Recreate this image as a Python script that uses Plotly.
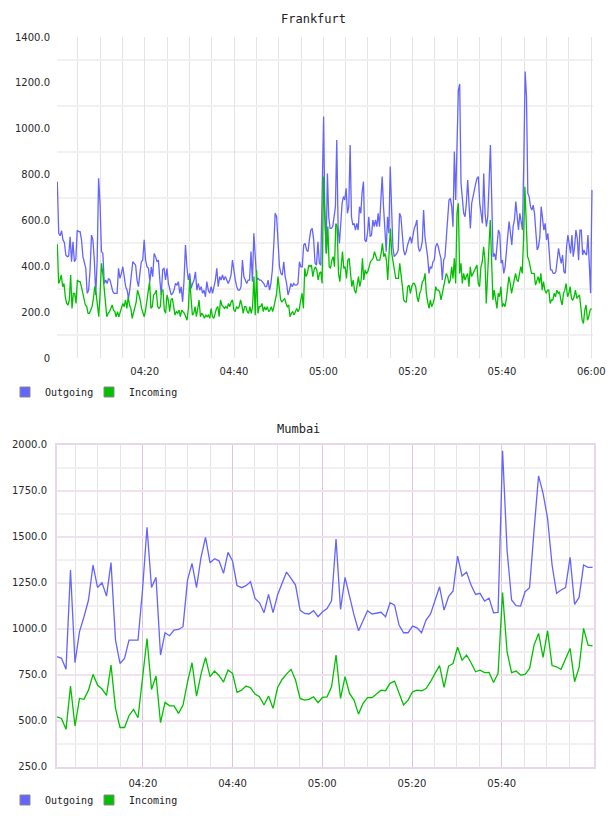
import plotly.graph_objects as go
import pandas as pd

# ---------------- data ----------------
# Frankfurt, first hour (04:00 -> 05:00), ~20 s samples
fra_out_a = [769, 544, 533, 555, 515, 503, 449, 442, 445, 529, 420, 507, 420, 430, 558, 551, 551, 515, 442, 420,
             391, 282, 296, 384, 536, 515, 427, 275, 427, 784, 675, 464, 456, 325, 340, 325, 347, 340, 318, 289,
             282, 282, 282, 391, 347, 369, 398, 355, 311, 296, 260, 304, 355, 420, 413, 405, 340, 311, 369, 420,
             427, 515, 427, 398, 391, 333, 398, 355, 456, 442, 420, 427, 340, 275, 387, 391, 340, 391, 325, 296,
             275, 282, 296, 325, 318, 333, 282, 311, 245, 340, 493, 398, 340, 369, 304, 325, 340, 376, 296, 325,
             296, 311, 282, 296, 267, 333, 296, 282, 311, 282, 311, 340, 391, 311, 355, 340, 362, 340, 355, 340,
             325, 340, 362, 427, 369, 340, 311, 296, 296, 311, 427, 355, 340, 325, 340, 340, 464, 333, 544, 427,
             340, 347, 340, 340, 333, 325, 311, 311, 340, 296, 325, 384, 493, 631, 616, 485, 398, 369, 362, 420,
             355, 325, 275, 296, 325, 311, 325, 318, 318, 325, 420, 398, 398, 493, 500, 471, 464, 515, 558, 565,
             515, 413, 405, 507, 413, 405, 675, 1053]
fra_out_b = [660, 456, 805, 616, 565, 565, 573, 631, 660, 951, 573, 500, 616, 675, 704, 689, 740, 631, 660, 929,
             616, 580, 587, 558, 587, 558, 660, 631, 725, 769, 515, 507, 544, 616, 529, 536, 602, 573, 602, 573,
             631, 573, 689, 791, 660, 573, 464, 616, 544, 835, 645, 485, 442, 449, 456, 471, 631, 616, 544, 471,
             449, 464, 493, 507, 529, 500, 536, 565, 580, 602, 485, 464, 478, 507, 645, 529, 485, 442, 369, 398,
             391, 420, 427, 485, 500, 485, 456, 435, 340, 427, 442, 515, 587, 689, 696, 660, 573, 900, 689, 907,
             1169, 1195, 762, 696, 631, 616, 675, 776, 660, 565, 675, 704, 747, 762, 784, 791, 675, 616, 587, 805,
             631, 573, 616, 762, 929, 689, 442, 456, 427, 493, 558, 544, 413, 427, 369, 398, 485, 536, 595, 544,
             493, 573, 602, 682, 631, 558, 631, 587, 558, 864, 1249, 1140, 718, 704, 660, 645, 667, 631, 544, 471,
             485, 529, 660, 616, 558, 587, 515, 544, 471, 384, 384, 369, 369, 376, 427, 478, 442, 413, 449, 376,
             369, 485, 536, 485, 456, 536, 442, 485, 558, 522, 427, 558, 558, 449, 471, 456, 449, 536, 427, 282,
             733]
fra_in_a = [496, 325, 340, 362, 311, 325, 267, 238, 231, 253, 362, 216, 282, 282, 238, 340, 333, 333, 311, 282,
            253, 231, 224, 195, 195, 209, 224, 260, 311, 282, 224, 180, 282, 413, 369, 311, 253, 180, 195, 202,
            216, 231, 209, 202, 180, 202, 180, 202, 224, 238, 224, 253, 216, 267, 231, 216, 173, 202, 231, 245,
            296, 275, 253, 216, 195, 180, 209, 253, 282, 333, 216, 224, 275, 282, 296, 224, 216, 224, 296, 296,
            209, 195, 275, 253, 202, 253, 260, 216, 187, 202, 195, 209, 180, 209, 202, 195, 180, 165, 216, 347,
            260, 187, 195, 224, 180, 216, 253, 180, 195, 187, 173, 187, 180, 187, 173, 216, 180, 173, 195, 216,
            224, 180, 253, 231, 224, 216, 224, 216, 238, 224, 245, 253, 209, 202, 224, 216, 224, 253, 231, 195,
            224, 224, 202, 195, 224, 195, 224, 355, 187, 384, 195, 224, 224, 238, 202, 224, 209, 224, 202, 209,
            224, 202, 224, 253, 282, 355, 311, 253, 245, 253, 260, 238, 224, 231, 180, 195, 202, 187, 202, 216,
            202, 216, 253, 282, 216, 391, 355, 369, 405, 398, 405, 355, 384, 398, 384, 340, 369, 376, 325, 791]
fra_in_b = [573, 456, 573, 398, 391, 427, 442, 398, 587, 573, 369, 333, 398, 464, 391, 398, 347, 427, 435, 355,
            311, 340, 296, 282, 333, 355, 311, 340, 435, 340, 384, 369, 376, 405, 420, 427, 435, 464, 449, 427,
            427, 427, 456, 500, 442, 456, 427, 340, 456, 565, 456, 420, 369, 347, 347, 347, 413, 369, 311, 253,
            245, 245, 311, 318, 282, 311, 325, 325, 311, 267, 245, 282, 296, 333, 340, 369, 282, 245, 216, 253,
            224, 238, 260, 311, 296, 296, 289, 253, 282, 296, 340, 369, 355, 325, 340, 398, 347, 435, 325, 631,
            675, 369, 413, 325, 369, 340, 355, 369, 311, 398, 355, 369, 384, 398, 405, 325, 311, 398, 420, 485,
            427, 238, 369, 456, 602, 427, 253, 296, 260, 216, 282, 267, 311, 224, 238, 224, 253, 311, 355, 325,
            282, 311, 340, 369, 340, 333, 369, 398, 369, 515, 747, 573, 442, 427, 391, 369, 369, 369, 318, 340,
            355, 325, 369, 296, 333, 296, 282, 296, 296, 238, 253, 253, 282, 267, 296, 282, 289, 253, 231, 282,
            296, 325, 267, 282, 311, 260, 253, 267, 296, 260, 267, 275, 224, 165, 151, 209, 231, 165, 180, 209,
            216]

# Mumbai, 1-minute samples
mum_out = [848, 839, 779, 1319, 815, 984, 1065, 1156, 1346, 1224, 1250, 1177, 1359, 938, 811, 839, 938, 938, 938, 1210,
           1551, 1224, 1279, 857, 978, 962, 993, 996, 1011, 1264, 1355, 1223, 1388, 1496, 1359, 1380, 1369, 1301, 1415, 1368,
           1235, 1223, 1234, 1255, 1165, 1141, 1087, 1186, 1087, 1183, 1241, 1308, 1273, 1237, 1101, 1083, 1080, 1098, 1065, 1092,
           1110, 1152, 1487, 1105, 1279, 1174, 1074, 989, 1047, 1098, 1080, 1083, 1089, 1065, 1141, 1128, 1020, 978, 978, 1014,
           1005, 978, 1047, 1080, 1156, 1228, 1101, 1174, 1205, 1395, 1286, 1308, 1237, 1186, 1192, 1150, 1166, 1087, 1089, 1967,
           1427, 1156, 1125, 1123, 1201, 1223, 1536, 1831, 1735, 1600, 1346, 1192, 1210, 1224, 1388, 1132, 1170, 1346, 1333, 1333]
mum_in = [521, 512, 453, 688, 471, 621, 616, 666, 752, 694, 672, 637, 802, 567, 463, 463, 527, 561, 516, 721,
          947, 670, 743, 489, 599, 581, 581, 540, 585, 710, 815, 634, 753, 844, 739, 770, 746, 710, 775, 757,
          654, 666, 688, 679, 645, 630, 585, 634, 567, 679, 724, 753, 779, 721, 621, 612, 616, 630, 598, 627,
          630, 684, 857, 621, 739, 648, 612, 536, 594, 625, 625, 645, 666, 663, 703, 715, 648, 585, 612, 657,
          666, 663, 675, 712, 757, 799, 681, 797, 811, 900, 829, 857, 815, 766, 775, 761, 762, 708, 757, 1197,
          875, 761, 770, 748, 752, 784, 911, 974, 844, 989, 800, 793, 779, 838, 893, 712, 790, 1002, 911, 907]

series_names = ["Outgoing", "Incoming"]
colors = ["#6464ff", "#00c000"]

fra_yticks = [0, 200, 400, 600, 800, 1000, 1200, 1400]
fra_yticktext = ["0", "200.0", "400.0", "600.0", "800.0", "1000.0", "1200.0", "1400.0"]
fra_yminor = [100, 300, 500, 700, 900, 1100, 1300]
mum_yticks = [250, 500, 750, 1000, 1250, 1500, 1750, 2000]
mum_yticktext = ["250.0", "500.0", "750.0", "1000.0", "1250.0", "1500.0", "1750.0", "2000.0"]
mum_yminor = [375, 625, 875, 1125, 1375, 1625, 1875]

xtick_labels = ["04:20", "04:40", "05:00", "05:20", "05:40", "06:00"]

DAY = "2000-01-01 "


def span(start, end, n):
    return pd.date_range(DAY + start, DAY + end, periods=n)


t_out_fra = list(span("04:00:26", "05:00:04", len(fra_out_a))) + list(span("05:00:19", "06:00:09", len(fra_out_b)))
t_in_fra = list(span("04:00:26", "05:00:02", len(fra_in_a))) + list(span("05:00:25", "06:00:02", len(fra_in_b)))
t_mum = span("04:00:52", "06:00:15", len(mum_out))

W, H = 608, 816
fig = go.Figure()

line_w = 1.3
fig.add_trace(go.Scatter(x=t_out_fra, y=fra_out_a + fra_out_b, mode="lines", line=dict(color=colors[0], width=line_w),
                         showlegend=False, xaxis="x", yaxis="y"))
fig.add_trace(go.Scatter(x=t_in_fra, y=fra_in_a + fra_in_b, mode="lines", line=dict(color=colors[1], width=line_w),
                         showlegend=False, xaxis="x", yaxis="y"))
fig.add_trace(go.Scatter(x=t_mum, y=mum_out, mode="lines", line=dict(color=colors[0], width=line_w),
                         showlegend=False, xaxis="x2", yaxis="y2"))
fig.add_trace(go.Scatter(x=t_mum, y=mum_in, mode="lines", line=dict(color=colors[1], width=line_w),
                         showlegend=False, xaxis="x2", yaxis="y2"))

# legend entries (square swatches), one legend box per entry for exact placement
legend_ids = [["legend", "legend3"], ["legend2", "legend4"]]
axes_ids = [("x", "y"), ("x2", "y2")]
for (xa, ya), lgs in zip(axes_ids, legend_ids):
    for name, c, lg in zip(series_names, colors, lgs):
        fig.add_trace(go.Scatter(x=[None], y=[None], mode="markers", name=name,
                                 marker=dict(symbol="square", size=10, color=c, line=dict(color="#888888", width=1)),
                                 legend=lg, xaxis=xa, yaxis=ya, showlegend=True))

tick_font = dict(family="DejaVu Sans", size=10, color="#2a2a2a")
vgrid = "#e4e4e4"
hgrid = "#f1f1f1"
pink_v = "#dcc6dc"
pink_h = "#f0e0f0"


def px_x(a, b):
    return [a / W, b / W]


def px_y(top, bottom):
    return [1 - bottom / H, 1 - top / H]


major_x = [DAY + s for s in xtick_labels]
minor_fra = list(pd.date_range(DAY + "04:05", DAY + "06:00", freq="5min"))
minor_mum = list(pd.date_range(DAY + "04:05", DAY + "05:55", freq="5min"))

legend_common = dict(orientation="h", xanchor="left", yanchor="middle",
                     font=dict(family="DejaVu Sans Mono", size=10, color="#222222"), bgcolor="rgba(0,0,0,0)",
                     itemclick=False, itemdoubleclick=False)

fig.update_layout(
    width=W, height=H, autosize=False,
    margin=dict(l=0, r=0, t=0, b=0),
    paper_bgcolor="white", plot_bgcolor="white",
    xaxis=dict(domain=px_x(57, 593), type="date", range=[DAY + "04:00:22", DAY + "06:00:23"],
               tickmode="array", tickvals=major_x, ticktext=xtick_labels,
               showgrid=True, gridcolor=vgrid, gridwidth=1, zeroline=False, showline=False,
               ticks="", tickfont=tick_font, ticklabelstandoff=6, automargin=False,
               minor=dict(tickmode="array", tickvals=minor_fra, showgrid=True, gridcolor=vgrid, gridwidth=1, ticks="")),
    yaxis=dict(domain=px_y(37, 358), range=[0, 1400], tickmode="array", tickvals=fra_yticks, ticktext=fra_yticktext,
               showgrid=False, zeroline=False, showline=False, ticks="", tickfont=tick_font,
               ticklabelstandoff=6, automargin=False,
               minor=dict(tickmode="array", tickvals=fra_yminor, showgrid=True, gridcolor=hgrid, gridwidth=2, ticks="")),
    xaxis2=dict(domain=px_x(57, 594), type="date", range=[DAY + "04:00:52", DAY + "06:00:34"],
                tickmode="array", tickvals=major_x[:-1], ticktext=xtick_labels[:-1],
                showgrid=True, gridcolor=pink_v, gridwidth=1, zeroline=False,
                showline=True, mirror=True, linecolor="#ead6ea", linewidth=2,
                ticks="", tickfont=tick_font, ticklabelstandoff=6, automargin=False, anchor="y2",
                minor=dict(tickmode="array", tickvals=minor_mum, showgrid=True, gridcolor=vgrid, gridwidth=1, ticks="")),
    yaxis2=dict(domain=px_y(444.7, 766.7), range=[250, 2000], tickmode="array", tickvals=mum_yticks,
                ticktext=mum_yticktext, showgrid=True, gridcolor=pink_h, gridwidth=2, zeroline=False,
                showline=True, mirror=True, linecolor="#ead6ea", linewidth=2,
                ticks="", tickfont=tick_font, ticklabelstandoff=6, automargin=False, anchor="x2",
                minor=dict(tickmode="array", tickvals=mum_yminor, showgrid=True, gridcolor=hgrid, gridwidth=2, ticks="")),
    legend=dict(legend_common, x=5 / W, y=1 - 392 / H),
    legend3=dict(legend_common, x=89 / W, y=1 - 392 / H),
    legend2=dict(legend_common, x=5 / W, y=1 - 800 / H),
    legend4=dict(legend_common, x=89 / W, y=1 - 800 / H),
    annotations=[
        dict(text="Frankfurt", x=313 / W, y=1 - 19 / H, xref="paper", yref="paper", showarrow=False,
             xanchor="center", yanchor="middle", font=dict(family="DejaVu Sans Mono", size=12, color="#222222")),
        dict(text="Mumbai", x=298 / W, y=1 - 429 / H, xref="paper", yref="paper", showarrow=False,
             xanchor="center", yanchor="middle", font=dict(family="DejaVu Sans Mono", size=12, color="#222222")),
    ],
)

fig.write_html("out.html")
